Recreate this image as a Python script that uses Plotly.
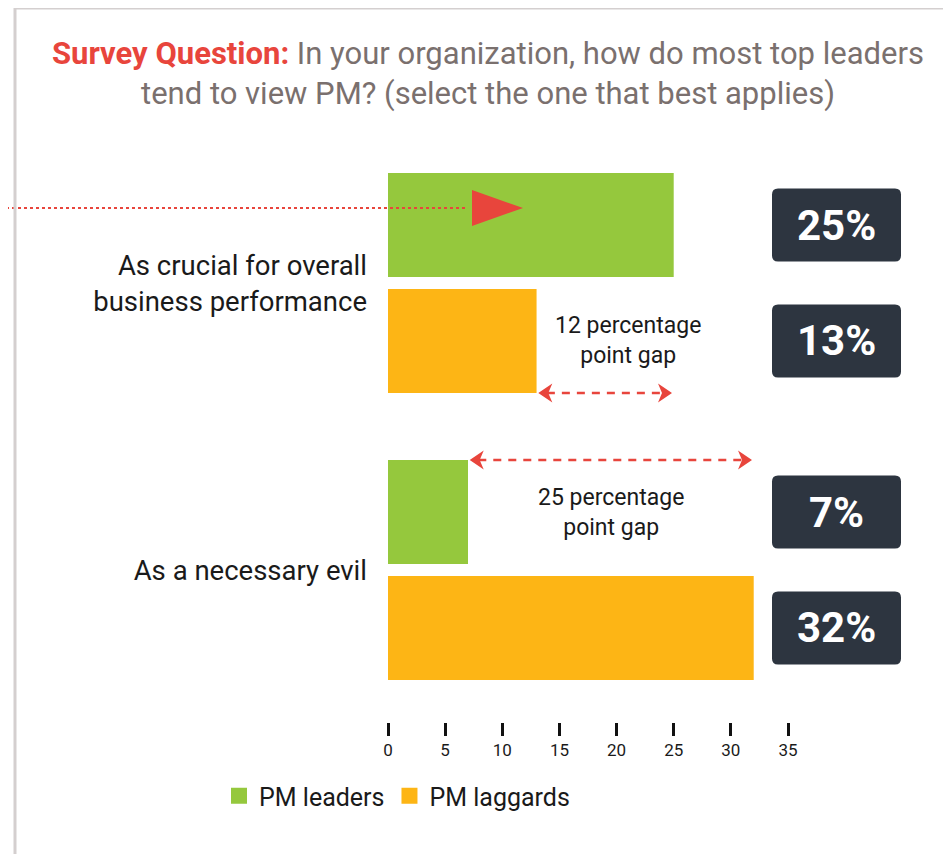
import plotly.graph_objects as go

categories = ["As crucial for overall<br>business performance", "As a necessary evil"]
leaders = [25, 7]
laggards = [13, 32]
series_names = ["PM leaders", "PM laggards"]
tick_vals = [0, 5, 10, 15, 20, 25, 30, 35]

GREEN = "#95c83d"
ORANGE = "#fdb515"
RED = "#e8453c"
DARK = "#2d3540"
GREY_BORDER = "#d4cfcf"
TXT = "#1a1a1a"

# page renders with an 8px body margin; layout numbers below are screen positions
OFF = 8
W, H = 951, 854
PLOT_L, PLOT_R, PLOT_T, PLOT_B = 388, 936, 140, 722  # screen px
L = PLOT_L - OFF
T = PLOT_T - OFF
R = W - (PLOT_R - OFF)
B = H - (PLOT_B - OFF)
plot_w = PLOT_R - PLOT_L
plot_h = PLOT_B - PLOT_T
px_per_unit = 400 / 35
x_max = plot_w / px_per_unit
cat_px = 287
y_top = -(283 - PLOT_T) / cat_px
y_bot = 1 + (PLOT_B - 570) / cat_px

def px_to_paper_x(px):
    return (px - PLOT_L) / plot_w

def px_to_paper_y(py):
    return 1 - (py - PLOT_T) / plot_h

fig = go.Figure()
fig.add_trace(go.Bar(y=categories, x=leaders, name=series_names[0], orientation="h",
                     marker=dict(color=GREEN, line=dict(width=0)), hoverinfo="x", showlegend=False))
fig.add_trace(go.Bar(y=categories, x=laggards, name=series_names[1], orientation="h",
                     marker=dict(color=ORANGE, line=dict(width=0)), hoverinfo="x", showlegend=False))
# legend entries with larger square swatches
for nm, col in zip(series_names, [GREEN, ORANGE]):
    fig.add_trace(go.Scatter(x=[None], y=[None], mode="markers", name=nm,
                             marker=dict(symbol="square", size=18, color=col), showlegend=True))

bargap = 0.192
bargroupgap = 0.103
slot = (1 - bargap) / 2
off = slot / 2
half_bar = slot * (1 - bargroupgap) / 2

shapes = []
annotations = []

# value boxes
box_x = (836.5 - PLOT_L) / px_per_unit
rr = 6
bw, bh = 64.5, 36.5
box_path = (f"M {-bw+rr},{-bh} L {bw-rr},{-bh} Q {bw},{-bh} {bw},{-bh+rr} "
            f"L {bw},{bh-rr} Q {bw},{bh} {bw-rr},{bh} L {-bw+rr},{bh} "
            f"Q {-bw},{bh} {-bw},{bh-rr} L {-bw},{-bh+rr} Q {-bw},{-bh} {-bw+rr},{-bh} Z")
for i in range(len(categories)):
    for j, vals in enumerate([leaders, laggards]):
        yc = i + (-off if j == 0 else off)
        shapes.append(dict(type="path", xref="x", yref="y", xsizemode="pixel", ysizemode="pixel",
                           xanchor=box_x, yanchor=yc, path=box_path,
                           fillcolor=DARK, line=dict(width=0), layer="above"))
        annotations.append(dict(x=box_x, y=yc, xref="x", yref="y", text=f"<b>{vals[i]}%</b>",
                                showarrow=False, font=dict(family="Roboto", size=42, color="white")))

# gap arrows and texts
left_head = "M 0,0 L 14,9.5 L 10,0 L 14,-9.5 Z"
right_head = "M 0,0 L -14,9.5 L -10,0 L -14,-9.5 Z"
gap_text_x = [21, None]
for i in range(len(categories)):
    lo, hi = sorted([leaders[i], laggards[i]])
    if i == 0:
        ya = i + off + half_bar
        ytxt = i + off
    else:
        ya = i - off - half_bar
        ytxt = i - off
    shapes.append(dict(type="line", xref="x", yref="y", x0=lo + 0.9, x1=hi - 0.9, y0=ya, y1=ya,
                       line=dict(color=RED, width=2.5, dash="8px,7px"), layer="above"))
    shapes.append(dict(type="path", xref="x", yref="y", xsizemode="pixel", ysizemode="pixel",
                       xanchor=lo + 0.15, yanchor=ya, path=left_head,
                       fillcolor=RED, line=dict(width=0), layer="above"))
    shapes.append(dict(type="path", xref="x", yref="y", xsizemode="pixel", ysizemode="pixel",
                       xanchor=hi - 0.15, yanchor=ya, path=right_head,
                       fillcolor=RED, line=dict(width=0), layer="above"))
    tx = gap_text_x[i] if gap_text_x[i] is not None else (lo + hi) / 2
    annotations.append(dict(x=tx, y=ytxt, xref="x", yref="y",
                            text=f"{hi - lo} percentage<br>point gap", showarrow=False,
                            font=dict(family="Roboto", size=23, color=TXT), align="center"))

# decorative dotted pointer and triangle
yp = px_to_paper_y(208)
shapes.append(dict(type="line", xref="paper", yref="paper", x0=px_to_paper_x(0), x1=px_to_paper_x(468),
                   y0=yp, y1=yp, line=dict(color=RED, width=2, dash="dot"), layer="above"))
shapes.append(dict(type="path", xref="paper", yref="paper", xsizemode="pixel", ysizemode="pixel",
                   xanchor=px_to_paper_x(472), yanchor=yp, path="M 0,18 L 51,0 L 0,-18 Z",
                   fillcolor=RED, line=dict(width=0), layer="above"))

# frame border
shapes.append(dict(type="line", xref="paper", yref="paper", x0=px_to_paper_x(15), x1=px_to_paper_x(15),
                   y0=px_to_paper_y(7), y1=px_to_paper_y(870), line=dict(color=GREY_BORDER, width=3)))
shapes.append(dict(type="line", xref="paper", yref="paper", x0=px_to_paper_x(14), x1=px_to_paper_x(970),
                   y0=px_to_paper_y(8), y1=px_to_paper_y(8), line=dict(color=GREY_BORDER, width=3)))

# title
annotations.append(dict(xref="paper", yref="paper", x=px_to_paper_x(488), y=px_to_paper_y(74),
                        xanchor="center", yanchor="middle", showarrow=False, align="center",
                        text=("<span style='color:%s'><b>Survey Question:</b></span> In your organization, how do most top leaders<br>"
                              "tend to view PM? (select the one that best applies)") % RED,
                        font=dict(family="Roboto", size=31, color="#7a706e")))

fig.update_layout(
    width=W, height=H,
    margin=dict(l=L, r=R, t=T, b=B, autoexpand=False),
    paper_bgcolor="white", plot_bgcolor="white",
    barmode="group", bargap=bargap, bargroupgap=bargroupgap,
    font=dict(family="Roboto", color=TXT),
    xaxis=dict(range=[0, x_max], tickvals=tick_vals, ticks="outside", ticklen=13, tickwidth=3,
               tickcolor="#111111", showgrid=False, zeroline=False, showline=False,
               tickfont=dict(size=17, color=TXT), fixedrange=True),
    yaxis=dict(range=[y_bot, y_top], showgrid=False, zeroline=False, showline=False, ticks="",
               tickfont=dict(size=27.5, color=TXT), ticklabelstandoff=20, fixedrange=True),
    showlegend=True,
    legend=dict(orientation="h", x=px_to_paper_x(219), y=px_to_paper_y(796), xanchor="left",
                yanchor="middle", font=dict(size=25, color=TXT), traceorder="normal",
                itemwidth=30, itemsizing="trace"),
    shapes=shapes, annotations=annotations,
)

fig.write_html("out.html")
